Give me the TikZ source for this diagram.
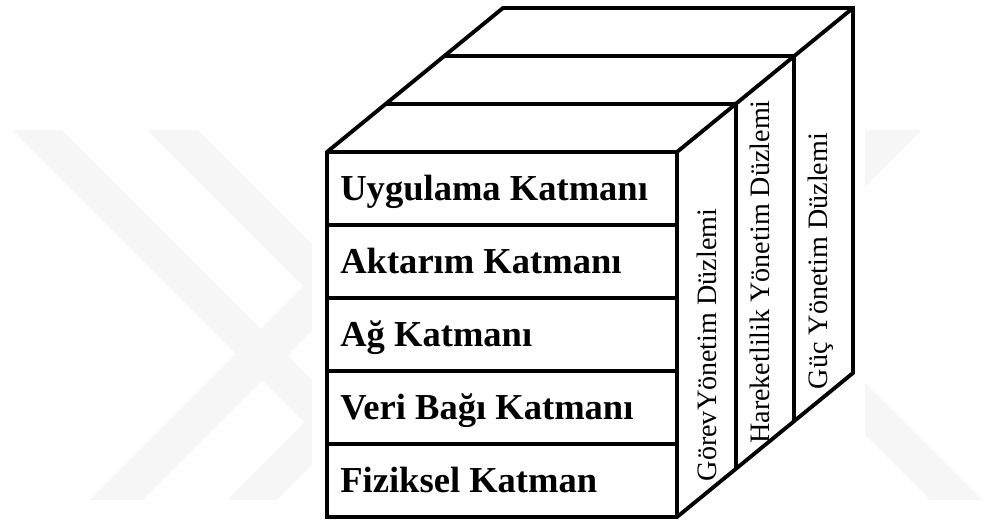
\documentclass[tikz,border=0pt]{standalone}
\usepackage{fontspec}
\setmainfont{Liberation Serif}
\begin{document}
\begin{tikzpicture}[
    layerstyle/.style={anchor=base west, inner sep=0pt, font=\fontsize{20.8}{25}\selectfont\bfseries},
    planestyle/.style={rotate=90, inner sep=0pt, font=\fontsize{16}{19}\selectfont},
    cubeline/.style={line width=2.2pt, line join=miter},
    wmark/.style={fill=gray!7}
]
    \useasboundingbox (-6.54,-0.08) rectangle (13.08,10.34);

    % faint watermark behind the figure
    \begin{scope}
        \clip (-6.54,-0.08) rectangle (13.08,10.34);
        \foreach \a/\b in {1.44/2.44, 4.14/5.16, 12.4/13.44}
            \fill[wmark] (\a-0.34,0.34) -- (\b-0.34,0.34) -- (\b-7.74,7.74) -- (\a-7.74,7.74) -- cycle;
        \foreach \a/\b in {-5.08/-4.02, -2.34/-1.34, 3.02/4.16}
            \fill[wmark] (\a+0.34,0.34) -- (\b+0.34,0.34) -- (\b+7.74,7.74) -- (\a+7.74,7.74) -- cycle;
    \end{scope}
    \fill[white] (-0.30,-0.08) rectangle (10.76,10.34);

    % corners of the cube
    \coordinate (fbl) at (0,0);
    \coordinate (fbr) at (7,0);
    \coordinate (ftl) at (0,7.3);
    \coordinate (ftr) at (7,7.3);
    \coordinate (btl) at (3.52,10.18);
    \coordinate (btr) at (10.52,10.18);
    \coordinate (bbr) at (10.52,2.88);

    \draw[cubeline] (fbl) -- (fbr) -- (bbr) -- (btr) -- (btl) -- (ftl) -- cycle;
    \draw[cubeline] (ftl) -- (ftr) -- (btr);
    \draw[cubeline] (ftr) -- (fbr);

    % layers on the front face
    \draw[cubeline] (0,5.84) -- (7,5.84);
    \draw[cubeline] (0,4.38) -- (7,4.38);
    \draw[cubeline] (0,2.92) -- (7,2.92);
    \draw[cubeline] (0,1.46) -- (7,1.46);

    % planes on the top and side
    \draw[cubeline] (1.173,8.26) -- (8.173,8.26) -- (8.173,0.96);
    \draw[cubeline] (2.347,9.22) -- (9.347,9.22) -- (9.347,1.92);

    \node[layerstyle] (k1) at (0.26,6.32) {Uygulama Katmanı};
    \node[layerstyle] (k2) at (0.26,4.86) {Aktarım Katmanı};
    \node[layerstyle] (k3) at (0.26,3.40) {Ağ Katmanı};
    \node[layerstyle] (k4) at (0.26,1.94) {Veri Bağı Katmanı};
    \node[layerstyle] (k5) at (0.26,0.48) {Fiziksel Katman};

    \node[planestyle] (p1) at (7.60,3.44) {GörevYönetim Düzlemi};
    \node[planestyle] (p2) at (8.66,4.90) {Hareketlilik Yönetim Düzlemi};
    \node[planestyle] (p3) at (9.88,5.12) {Güç Yönetim Düzlemi};
\end{tikzpicture}
\end{document}
